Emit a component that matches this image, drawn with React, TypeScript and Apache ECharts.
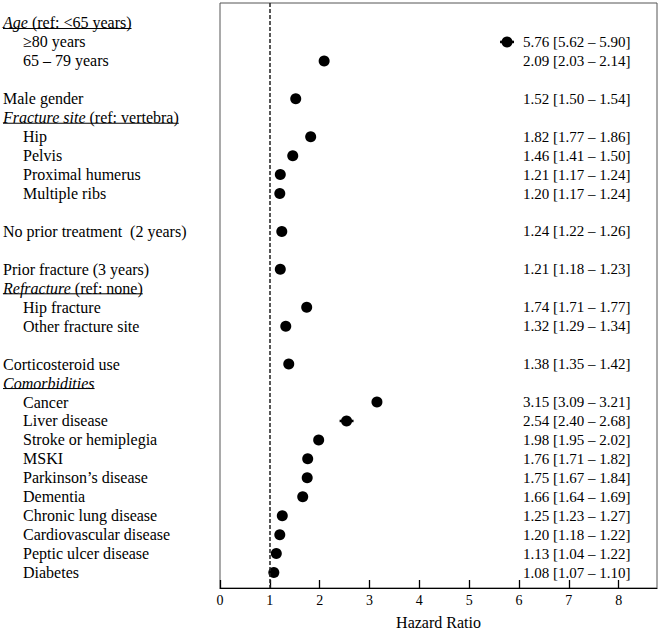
import React, { useEffect, useRef } from "react";
import * as echarts from "echarts";

const FONT = '"Liberation Serif", "Times New Roman", serif';

const rowLabels = [
  "Age (ref: <65 years)",
  "≥80 years",
  "65 – 79 years",
  "",
  "Male gender",
  "Fracture site (ref: vertebra)",
  "Hip",
  "Pelvis",
  "Proximal humerus",
  "Multiple ribs",
  "",
  "No prior treatment  (2 years)",
  "",
  "Prior fracture (3 years)",
  "Refracture (ref: none)",
  "Hip fracture",
  "Other fracture site",
  "",
  "Corticosteroid use",
  "Comorbidities",
  "Cancer",
  "Liver disease",
  "Stroke or hemiplegia",
  "MSKI",
  "Parkinson’s disease",
  "Dementia",
  "Chronic lung disease",
  "Cardiovascular disease",
  "Peptic ulcer disease",
  "Diabetes",
];

const rowKinds = [
  "header", "sub", "sub", "blank", "main",
  "header", "sub", "sub", "sub", "sub", "blank",
  "main", "blank", "main",
  "header", "sub", "sub", "blank",
  "main",
  "header", "sub", "sub", "sub", "sub", "sub", "sub", "sub", "sub", "sub", "sub",
];

const headerItalicParts = ["Age", "Fracture site", "Refracture", "Comorbidities"];

const hazardRatio = [
  null, 5.76, 2.09, null, 1.52,
  null, 1.82, 1.46, 1.21, 1.20, null,
  1.24, null, 1.21,
  null, 1.74, 1.32, null,
  1.38,
  null, 3.15, 2.54, 1.98, 1.76, 1.75, 1.66, 1.25, 1.20, 1.13, 1.08,
];
const ciLower = [
  null, 5.62, 2.03, null, 1.50,
  null, 1.77, 1.41, 1.17, 1.17, null,
  1.22, null, 1.18,
  null, 1.71, 1.29, null,
  1.35,
  null, 3.09, 2.40, 1.95, 1.71, 1.67, 1.64, 1.23, 1.18, 1.04, 1.07,
];
const ciUpper = [
  null, 5.90, 2.14, null, 1.54,
  null, 1.86, 1.50, 1.24, 1.24, null,
  1.26, null, 1.23,
  null, 1.77, 1.34, null,
  1.42,
  null, 3.21, 2.68, 2.02, 1.82, 1.84, 1.69, 1.27, 1.22, 1.22, 1.10,
];

const xTicks = [0, 1, 2, 3, 4, 5, 6, 7, 8];
const xAxisTitle = "Hazard Ratio";

let measureCtx: CanvasRenderingContext2D | null = null;
function textWidth(s: string, font: string): number {
  if (!measureCtx) {
    const c = document.createElement("canvas");
    measureCtx = c.getContext("2d");
  }
  if (!measureCtx) return s.length * 7;
  measureCtx.font = font;
  return measureCtx.measureText(s).width;
}

export default function App() {
  const ref = useRef<HTMLDivElement>(null);

  useEffect(() => {
    if (!ref.current) return;
    const chart = echarts.init(ref.current, undefined, { renderer: "svg" });

    const labelData = rowLabels
      .map((l, i) => (l ? [0, i] : null))
      .filter((d) => d !== null);
    const pointData = hazardRatio
      .map((v, i) => (v != null ? [v, i] : null))
      .filter((d) => d !== null);
    const ciData = hazardRatio
      .map((v, i) => (v != null ? [ciLower[i], i, ciUpper[i]] : null))
      .filter((d) => d !== null);
    const valueTextData = hazardRatio
      .map((v, i) => (v != null ? [v, i] : null))
      .filter((d) => d !== null);

    const FS = 16;
    const textColor = "#000";

    chart.setOption({
      animation: false,
      backgroundColor: "#fff",
      grid: {
        left: 220,
        right: 4,
        top: 3,
        bottom: 41,
        outerBoundsMode: "none",
        containLabel: false,
        show: true,
        borderColor: "#555",
        borderWidth: 1,
        backgroundColor: "transparent",
      },
      xAxis: {
        type: "value",
        min: 0,
        max: 8.77,
        interval: 1,
        name: xAxisTitle,
        nameLocation: "middle",
        nameGap: 26,
        nameTextStyle: { fontFamily: FONT, fontSize: 16, color: textColor },
        axisLine: { show: true, onZero: false, lineStyle: { color: "#000", width: 1.2 } },
        axisTick: { show: true, inside: true, length: 8, lineStyle: { color: "#000", width: 1.3 } },
        axisLabel: {
          fontFamily: FONT,
          fontSize: 14,
          color: textColor,
          margin: 5,
          showMaxLabel: false,
          formatter: (v: number) => (xTicks.includes(v) ? String(v) : ""),
        },
        splitLine: { show: false },
      },
      yAxis: {
        type: "value",
        inverse: true,
        min: -1.055,
        max: 29.815,
        show: false,
        splitLine: { show: false },
      },
      series: [
        {
          type: "custom",
          name: "labels",
          clip: false,
          silent: true,
          encode: { x: 0, y: 1 },
          data: labelData,
          renderItem: (params: any, api: any) => {
            const i = api.value(1);
            const label = rowLabels[i];
            const kind = rowKinds[i];
            const y = api.coord([0, i])[1];
            const cs = params.coordSys;
            const baseX = cs.x - 217;
            const x = kind === "sub" ? baseX + 20 : baseX;
            if (kind === "header") {
              const it = headerItalicParts.find((p) => label.startsWith(p)) || "";
              const rest = label.slice(it.length);
              const w =
                textWidth(it, `italic ${FS}px ${FONT}`) +
                textWidth(rest, `${FS}px ${FONT}`);
              return {
                type: "group",
                children: [
                  {
                    type: "text",
                    x,
                    y,
                    style: {
                      text: `{it|${it}}{n|${rest}}`,
                      align: "left",
                      verticalAlign: "middle",
                      fill: textColor,
                      fontFamily: FONT,
                      fontSize: FS,
                      rich: {
                        it: { fontStyle: "italic", fontFamily: FONT, fontSize: FS, fill: textColor },
                        n: { fontFamily: FONT, fontSize: FS, fill: textColor },
                      },
                    },
                  },
                  {
                    type: "line",
                    shape: { x1: x, y1: y + 5.5, x2: x + w, y2: y + 5.5 },
                    style: { stroke: textColor, lineWidth: 1 },
                  },
                ],
              };
            }
            return {
              type: "text",
              x,
              y,
              style: {
                text: label,
                align: "left",
                verticalAlign: "middle",
                fill: textColor,
                fontFamily: FONT,
                fontSize: FS,
              },
            };
          },
          z: 5,
        },
        {
          type: "custom",
          name: "ci",
          silent: true,
          encode: { x: [0, 2], y: 1 },
          data: ciData,
          renderItem: (params: any, api: any) => {
            const i = api.value(1);
            const p1 = api.coord([api.value(0), i]);
            const p2 = api.coord([api.value(2), i]);
            return {
              type: "line",
              shape: { x1: p1[0], y1: p1[1], x2: p2[0], y2: p2[1] },
              style: { stroke: "#000", lineWidth: 2.5 },
            };
          },
          z: 3,
        },
        {
          type: "scatter",
          name: "HR",
          data: pointData,
          symbol: "circle",
          symbolSize: 11,
          itemStyle: { color: "#000", opacity: 1 },
          silent: true,
          z: 4,
          markLine: {
            silent: true,
            symbol: ["none", "none"],
            label: { show: false },
            lineStyle: { color: "#222", type: [4, 2], width: 1.5 },
            data: [{ xAxis: 1 }],
          },
        },
        {
          type: "custom",
          name: "values",
          clip: false,
          silent: true,
          encode: { x: 0, y: 1 },
          data: valueTextData,
          renderItem: (params: any, api: any) => {
            const i = api.value(1);
            const y = api.coord([0, i])[1];
            const cs = params.coordSys;
            const x = cs.x + cs.width - 134;
            const txt = `${hazardRatio[i]!.toFixed(2)} [${ciLower[i]!.toFixed(2)} – ${ciUpper[i]!.toFixed(2)}]`;
            return {
              type: "text",
              x,
              y,
              style: {
                text: txt,
                align: "left",
                verticalAlign: "middle",
                fill: textColor,
                fontFamily: FONT,
                fontSize: 15,
              },
            };
          },
          z: 5,
        },
      ],
    });

    return () => chart.dispose();
  }, []);

  return (
    <div
      ref={ref}
      style={{ position: "absolute", left: 0, top: 0, width: 661, height: 629, background: "#fff" }}
    />
  );
}
